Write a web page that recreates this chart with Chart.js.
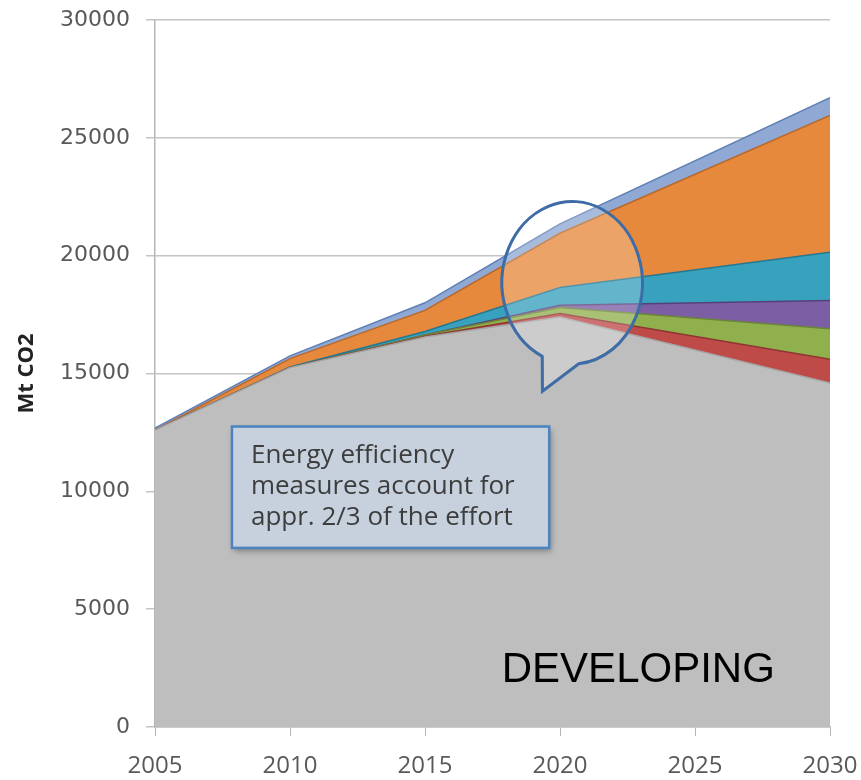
<!DOCTYPE html>
<html>
<head>
<meta charset="utf-8">
<script src="https://cdn.jsdelivr.net/npm/chart.js@4"></script>
<style>
  html, body { margin: 0; padding: 0; background: #fff; }
  #wrap { width: 861px; height: 780px; position: relative; }
</style>
</head>
<body>
<div id="wrap"><canvas id="chart-dev"></canvas></div>
<script>
// years with data points
const years = [2005, 2010, 2015, 2020, 2030];
// stacked layers, bottom to top (Mt CO2)
const remaining   = [12600, 15250, 16550, 17400, 14600];
const wedgeRed    = [0, 0, 30, 150, 1000];
const wedgeGreen  = [0, 0, 50, 250, 1300];
const wedgePurple = [0, 0, 0, 100, 1200];
const wedgeTeal   = [0, 30, 150, 750, 2050];
const wedgeOrange = [0, 350, 900, 2300, 5800];
const wedgeBlue   = [80, 120, 320, 400, 750];
const yTicks = [0, 5000, 10000, 15000, 20000, 25000, 30000];
const noteLines = ['Energy efficiency', 'measures account for', 'appr. 2/3 of the effort'];
const regionLabel = 'DEVELOPING';

const layers = [
  { label: 'Remaining', values: remaining, color: '#bebebe', edge: '#a5a5a5' },
  { label: 'Red', values: wedgeRed, color: '#be4b48', edge: '#8e3532' },
  { label: 'Green', values: wedgeGreen, color: '#90b04d', edge: '#6b8537' },
  { label: 'Purple', values: wedgePurple, color: '#7b5ea3', edge: '#56407a' },
  { label: 'Teal', values: wedgeTeal, color: '#38a1be', edge: '#267790' },
  { label: 'Orange', values: wedgeOrange, color: '#e6893d', edge: '#b8682a' },
  { label: 'Blue', values: wedgeBlue, color: '#8fa8d4', edge: '#5f7fb5' }
];

// speech bubble + text box + label, placed in data coordinates
const notes = {
  id: 'notes',
  afterDatasetsDraw(chart) {
    const ctx = chart.ctx;
    const xs = chart.scales.x, ys = chart.scales.y;

    // bubble
    const cx = xs.getPixelForValue(2020.45), cy = ys.getPixelForValue(18850);
    const rx = xs.getPixelForValue(2020.45 + 2.6) - cx;
    const ry = cy - ys.getPixelForValue(18850 + 3450);
    ctx.save();
    ctx.beginPath();
    ctx.ellipse(cx, cy, rx, ry, 0, Math.PI * 0.64, Math.PI * 2.47, false);
    ctx.lineTo(xs.getPixelForValue(2019.35), ys.getPixelForValue(14250));
    ctx.closePath();
    ctx.fillStyle = 'rgba(255,255,255,0.22)';
    ctx.fill();
    ctx.lineWidth = 3;
    ctx.strokeStyle = '#3e6ca6';
    ctx.stroke();
    ctx.restore();

    // text box
    const bx0 = xs.getPixelForValue(2007.85), bx1 = xs.getPixelForValue(2019.6);
    const by0 = ys.getPixelForValue(12750), by1 = ys.getPixelForValue(7600);
    ctx.save();
    ctx.shadowColor = 'rgba(0,0,0,0.35)';
    ctx.shadowBlur = 6;
    ctx.shadowOffsetX = 2;
    ctx.shadowOffsetY = 3;
    ctx.fillStyle = '#c6d1dd';
    ctx.fillRect(bx0, by0, bx1 - bx0, by1 - by0);
    ctx.shadowColor = 'transparent';
    ctx.lineWidth = 2.5;
    ctx.strokeStyle = '#4b84c0';
    ctx.strokeRect(bx0, by0, bx1 - bx0, by1 - by0);
    ctx.fillStyle = '#3d3d3d';
    ctx.font = '26px "Open Sans"';
    ctx.textBaseline = 'middle';
    ctx.textAlign = 'left';
    noteLines.forEach((t, i) => ctx.fillText(t, bx0 + 19, by0 + 29 + i * 31));

    // region label
    ctx.fillStyle = '#000';
    ctx.font = '42px "Liberation Sans"';
    ctx.textAlign = 'center';
    ctx.fillText(regionLabel, xs.getPixelForValue(2022.9), ys.getPixelForValue(2400));
    ctx.restore();
  }
};

function initializeChart() {
  const ctx = document.getElementById('chart-dev');
  const datasets = layers.map((l, i) => ({
    label: l.label,
    data: years.map((y, j) => ({ x: y, y: l.values[j] })),
    backgroundColor: l.color,
    borderColor: l.edge,
    borderWidth: 1.5,
    pointRadius: 0,
    tension: 0,
    fill: i === 0 ? 'origin' : '-1'
  }));

  new Chart(ctx, {
    type: 'line',
    data: { datasets: datasets },
    options: {
      responsive: true,
      maintainAspectRatio: false,
      animation: false,
      layout: { padding: { left: 10, right: 31, top: 20, bottom: 0 } },
      plugins: { legend: { display: false }, tooltip: { enabled: false } },
      scales: {
        x: {
          type: 'linear',
          min: 2005,
          max: 2030,
          afterFit: s => { s.height = 53; s.paddingLeft = 0; s.paddingRight = 0; },
          ticks: {
            stepSize: 5,
            padding: 16,
            color: '#595959',
            font: { family: 'Open Sans', size: 24 },
            callback: v => String(v)
          },
          grid: { drawOnChartArea: false, color: '#b5b5b5', tickLength: 9 },
          border: { color: '#b5b5b5', width: 1.5 }
        },
        y: {
          stacked: true,
          min: 0,
          max: 30000,
          afterFit: s => { s.width = 145; s.paddingTop = 0; s.paddingBottom = 0; },
          afterBuildTicks: s => { s.ticks = yTicks.map(v => ({ value: v })); },
          ticks: {
            padding: 16,
            color: '#595959',
            font: { family: 'DejaVu Sans', size: 22 },
            callback: v => String(v)
          },
          title: {
            display: true,
            text: 'Mt CO2',
            color: '#222',
            font: { family: 'Open Sans', size: 22, weight: 'bold' }
          },
          grid: { color: '#c4c4c4', lineWidth: 1.5, tickLength: 9 },
          border: { color: '#b5b5b5', width: 1.5 }
        }
      }
    },
    plugins: [notes]
  });
}

initializeChart();
</script>
</body>
</html>
